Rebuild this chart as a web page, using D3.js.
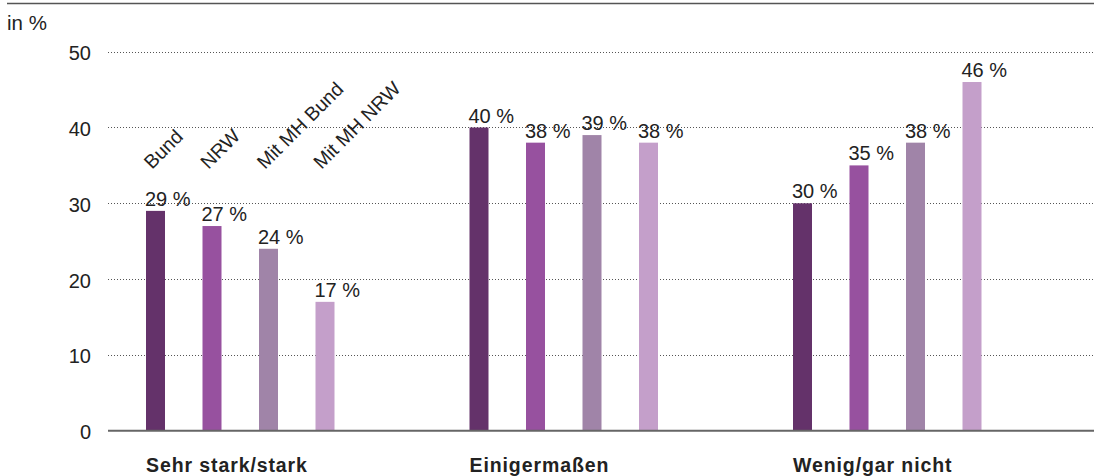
<!DOCTYPE html>
<html>
<head>
<meta charset="utf-8">
<script src="https://cdn.jsdelivr.net/npm/d3@7"></script>
<style>
  html, body { margin: 0; padding: 0; background: #fff; }
  svg { display: block; }
  text { font-family: "Liberation Sans", Arial, sans-serif; fill: #222; }
</style>
</head>
<body>
<svg id="chart" width="1094" height="476"></svg>
<script>
const categories = ["Sehr stark/stark", "Einigermaßen", "Wenig/gar nicht"];
const seriesNames = ["Bund", "NRW", "Mit MH Bund", "Mit MH NRW"];
const bund = [29, 40, 30];
const nrw = [27, 38, 35];
const mitMhBund = [24, 39, 38];
const mitMhNrw = [17, 38, 46];
const yTicks = [0, 10, 20, 30, 40, 50];
const colors = ["#64326a", "#97519f", "#a084a8", "#c49fca"];
const unitLabel = "in %";

const seriesValues = [bund, nrw, mitMhBund, mitMhNrw];
const data = categories.map((c, i) => ({
  cat: c,
  vals: seriesNames.map((s, j) => ({ s, v: seriesValues[j][i], color: colors[j] }))
}));

const svg = d3.select("#chart");
const W = 1094, H = 476;
const plotLeft = 108, plotRight = 1094;

const y = d3.scaleLinear().domain([0, 50]).range([430.7, 51.7]);
const x0 = d3.scaleBand().domain(categories).range([111, 1081.5]).paddingInner(0).paddingOuter(0);
const x1 = d3.scaleBand().domain(seriesNames).range([35, 223.5]).paddingInner(0.6637).paddingOuter(0);

// top rule
svg.append("line")
  .attr("x1", 7).attr("x2", W).attr("y1", 3.5).attr("y2", 3.5)
  .attr("stroke", "#555").attr("stroke-width", 1.6);

// unit label
svg.append("text").attr("x", 7).attr("y", 30)
  .style("font-size", "20.5px").text(unitLabel);

// gridlines
svg.append("g").selectAll("line")
  .data(yTicks.filter(t => t > 0))
  .join("line")
  .attr("x1", plotLeft).attr("x2", plotRight)
  .attr("y1", d => Math.round(y(d)) + 0.5).attr("y2", d => Math.round(y(d)) + 0.5)
  .attr("stroke", "#555").attr("stroke-width", 1)
  .attr("stroke-dasharray", "1,2");

// y axis labels
const yAxis = d3.axisLeft(y).tickValues(yTicks).tickSize(0).tickPadding(0);
const ga = svg.append("g").attr("transform", "translate(91,0)").call(yAxis);
ga.select(".domain").remove();
ga.selectAll("text")
  .attr("dy", "0.4em")
  .style("font-size", "20px")
  .style("font-family", "'Liberation Sans', Arial, sans-serif")
  .attr("fill", "#222");

// bars
const groups = svg.append("g").selectAll("g")
  .data(data).join("g")
  .attr("transform", d => `translate(${x0(d.cat)},0)`);

groups.selectAll("rect")
  .data(d => d.vals).join("rect")
  .attr("x", d => x1(d.s))
  .attr("width", x1.bandwidth())
  .attr("y", d => y(d.v))
  .attr("height", d => y(0) - y(d.v))
  .attr("fill", d => d.color);

groups.selectAll("text.val")
  .data(d => d.vals).join("text")
  .attr("class", "val")
  .attr("x", d => x1(d.s) - 1)
  .attr("y", d => y(d.v) - 5)
  .style("font-size", "20px")
  .text(d => d.v + " %");

// baseline
svg.append("line")
  .attr("x1", plotLeft).attr("x2", plotRight)
  .attr("y1", y(0)).attr("y2", y(0))
  .attr("stroke", "#666").attr("stroke-width", 2);

// rotated series labels (first group)
svg.append("g").selectAll("text")
  .data(seriesNames).join("text")
  .attr("transform", d => `translate(${x0(categories[0]) + x1(d) + 6},170) rotate(-45)`)
  .style("font-size", "19.5px")
  .text(d => d);

// category labels
svg.append("g").selectAll("text")
  .data(categories).join("text")
  .attr("x", d => x0(d) + x1(seriesNames[0]))
  .attr("y", 472)
  .style("font-size", "19.5px")
  .style("font-weight", "bold")
  .style("letter-spacing", "0.9px")
  .text(d => d);
</script>
</body>
</html>
